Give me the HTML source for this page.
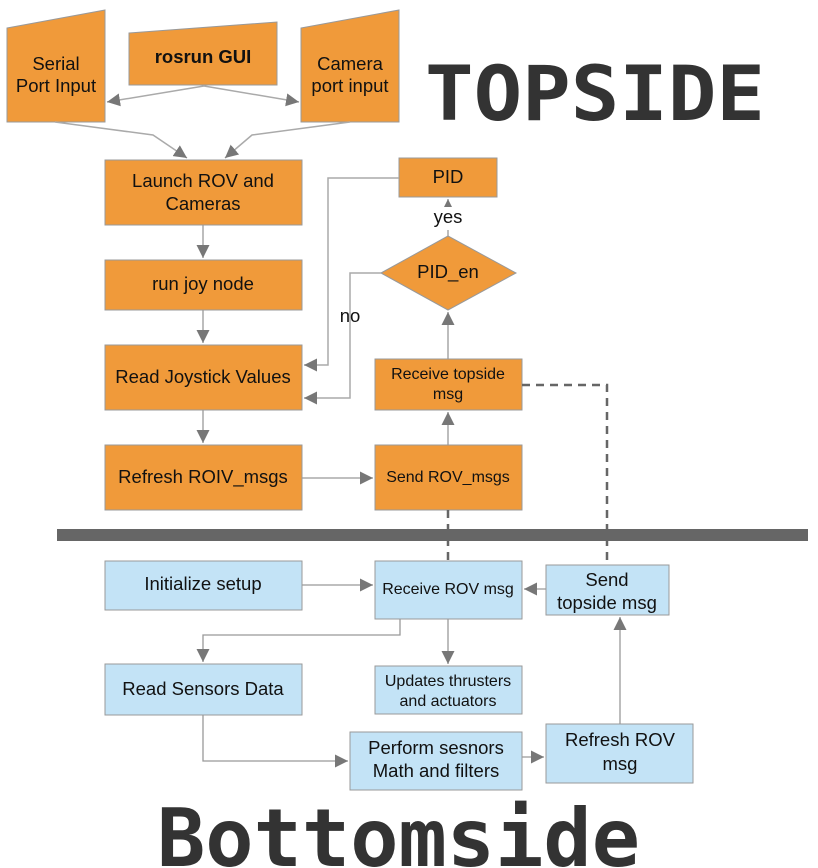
<!DOCTYPE html>
<html><head><meta charset="utf-8"><style>
html,body{margin:0;padding:0;background:#fff;}
svg{display:block;}
text{font-family:"Liberation Sans",sans-serif;fill:#111;}
text.mono{font-family:"DejaVu Sans Mono","Liberation Mono",monospace;font-weight:bold;fill:#333;}
</style></head><body>
<svg width="818" height="868" viewBox="0 0 818 868" xmlns="http://www.w3.org/2000/svg">
<defs>
<marker id="a" viewBox="0 0 10 10" refX="10" refY="5" markerWidth="8" markerHeight="8" markerUnits="userSpaceOnUse" orient="auto"><path d="M0,0L10,5L0,10z" fill="#777"/></marker>
<marker id="b" viewBox="0 0 10 10" refX="10" refY="5" markerWidth="13" markerHeight="13" markerUnits="userSpaceOnUse" orient="auto"><path d="M0,0L10,5L0,10z" fill="#777"/></marker>
</defs>
<g fill="#f09a3a" stroke="#999" stroke-width="1">
<polygon points="7,28 105,10 105,122 7,122"/>
<polygon points="129,33 277,22 277,85 129,85"/>
<polygon points="301,28 399,10 399,122 301,122"/>
<rect x="105" y="160" width="197" height="65"/>
<rect x="105" y="260" width="197" height="50"/>
<rect x="105" y="345" width="197" height="65"/>
<rect x="105" y="445" width="197" height="65"/>
<rect x="399" y="158" width="98" height="39"/>
<polygon points="381,273 448,236 516,273 448,310"/>
<rect x="375" y="359" width="147" height="51"/>
<rect x="375" y="445" width="147" height="65"/>
</g>
<g fill="#c3e3f6" stroke="#999" stroke-width="1">
<rect x="105" y="561" width="197" height="49"/>
<rect x="375" y="561" width="147" height="58"/>
<rect x="546" y="565" width="123" height="50"/>
<rect x="105" y="664" width="197" height="51"/>
<rect x="375" y="666" width="147" height="48"/>
<rect x="350" y="732" width="172" height="58"/>
<rect x="546" y="724" width="147" height="59"/>
</g>
<rect x="57" y="529" width="751" height="12" fill="#666"/>
<g fill="none" stroke="#aaa" stroke-width="1.5">
<path d="M204,86 L107,102" marker-end="url(#b)"/>
<path d="M204,86 L299,102" marker-end="url(#b)"/>
<path d="M55,122 L153,135 L187,158" marker-end="url(#b)"/>
<path d="M350,122 L252,135 L225,158" marker-end="url(#b)"/>
<path d="M399,178 L328,178 L328,365 L304,365" marker-end="url(#b)"/>
<path d="M381,273 L350,273 L350,398 L304,398" marker-end="url(#b)"/>
</g>
<g fill="none" stroke="#999" stroke-width="1.3">
<path d="M203,225 L203,258" marker-end="url(#b)"/>
<path d="M203,310 L203,343" marker-end="url(#b)"/>
<path d="M203,410 L203,443" marker-end="url(#b)"/>
<path d="M302,478 L373,478" marker-end="url(#b)"/>
<path d="M448,445 L448,412" marker-end="url(#b)"/>
<path d="M448,359 L448,312" marker-end="url(#b)"/>
<path d="M448,236 L448,230"/>
<path d="M448,204 L448,199" marker-end="url(#a)"/>
<path d="M302,585 L373,585" marker-end="url(#b)"/>
<path d="M546,589 L524,589" marker-end="url(#b)"/>
<path d="M448,619 L448,664" marker-end="url(#b)"/>
<path d="M400,619 L400,635 L203,635 L203,662" marker-end="url(#b)"/>
<path d="M203,715 L203,761 L348,761" marker-end="url(#b)"/>
<path d="M522,757 L544,757" marker-end="url(#b)"/>
<path d="M620,724 L620,617" marker-end="url(#b)"/>
</g>
<g fill="none" stroke="#666" stroke-width="2.5" stroke-dasharray="8,6">
<path d="M522,385 L607,385 L607,565"/>
<path d="M448,510 L448,561"/>
</g>
<g font-size="18.5" text-anchor="middle">
<text x="56" y="70">Serial</text><text x="56" y="92">Port Input</text>
<text x="203" y="63" font-weight="bold">rosrun GUI</text>
<text x="350" y="70">Camera</text><text x="350" y="92">port input</text>
<text x="203" y="187">Launch ROV and</text><text x="203" y="210">Cameras</text>
<text x="203" y="290">run joy node</text>
<text x="203" y="383">Read Joystick Values</text>
<text x="203" y="483">Refresh ROIV_msgs</text>
<text x="448" y="183">PID</text>
<text x="448" y="223">yes</text>
<text x="448" y="278">PID_en</text>
<text x="350" y="322">no</text>
<text x="203" y="590">Initialize setup</text>
<text x="607" y="586">Send</text><text x="607" y="609">topside msg</text>
<text x="203" y="695">Read Sensors Data</text>
<text x="436" y="754">Perform sesnors</text><text x="436" y="777">Math and filters</text>
<text x="620" y="746">Refresh ROV</text><text x="620" y="770">msg</text>
</g>
<g font-size="16" text-anchor="middle">
<text x="448" y="379">Receive topside</text><text x="448" y="399">msg</text>
<text x="448" y="482">Send ROV_msgs</text>
<text x="448" y="594">Receive ROV msg</text>
<text x="448" y="686">Updates thrusters</text><text x="448" y="706">and actuators</text>
</g>
<text class="mono" x="425" y="120" font-size="76" textLength="340" lengthAdjust="spacingAndGlyphs">TOPSIDE</text>
<text class="mono" x="157" y="866" font-size="80" textLength="483" lengthAdjust="spacingAndGlyphs">Bottomside</text>
</svg>
</body></html>
